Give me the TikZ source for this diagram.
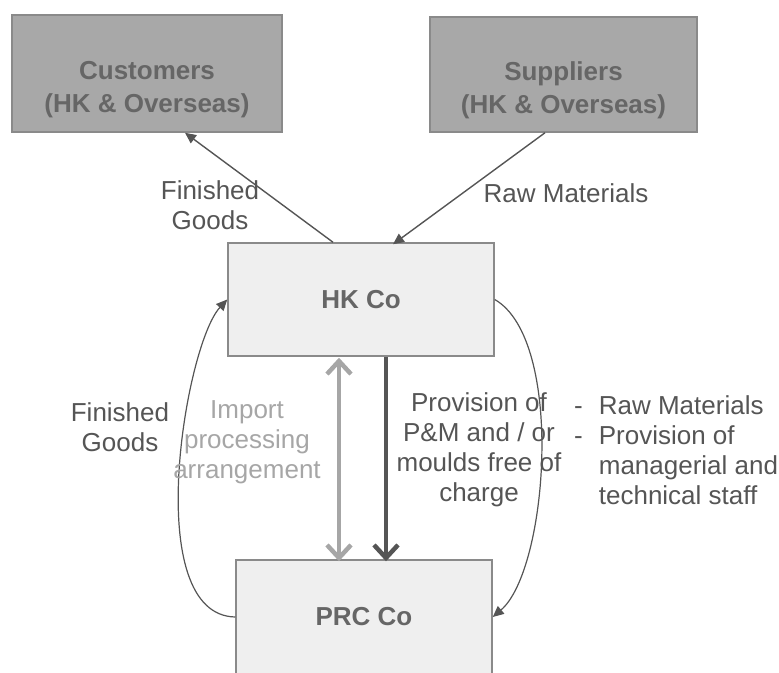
\documentclass[tikz,border=0pt]{standalone}
\usepackage{fontspec}
\setmainfont{Liberation Sans}
\usetikzlibrary{arrows.meta,calc}
\definecolor{darkbox}{HTML}{A8A8A8}
\definecolor{lightbox}{HTML}{EFEFEF}
\definecolor{edge}{HTML}{8A8A8A}
\definecolor{ink}{HTML}{555555}
\definecolor{paleink}{HTML}{A6A6A6}
\definecolor{darkarrow}{HTML}{555555}
\tikzset{
  topbox/.style={draw=edge, line width=1.5pt, fill=darkbox, minimum width=270pt, minimum height=117pt, inner sep=0pt},
  midbox/.style={draw=edge, line width=1.5pt, fill=lightbox, inner sep=0pt},
  boxtext/.style={text=ink!90, font=\fontsize{26}{33}\selectfont\bfseries, align=center, inner sep=0pt},
  lbl/.style={text=ink, font=\fontsize{26}{30}\selectfont, align=center, inner sep=0pt},
  palelbl/.style={text=paleink, font=\fontsize{26}{30}\selectfont, align=center, inner sep=0pt},
  leftlbl/.style={text=ink, font=\fontsize{26}{30}\selectfont, align=left, inner sep=0pt},
  thinarr/.style={draw=ink, line width=1.4pt, -{Triangle[length=11pt,width=10pt]}},
  curvearr/.style={draw=ink, line width=1.2pt, -{Triangle[length=11pt,width=10pt]}},
  palearr/.style={draw=paleink, line width=4.5pt, {Straight Barb[length=13pt,width=24pt,line width=4.5pt]}-{Straight Barb[length=13pt,width=24pt,line width=4.5pt]}},
  darkarr/.style={draw=darkarrow, line width=4.5pt, -{Straight Barb[length=13pt,width=24pt,line width=4.5pt]}},
}
\begin{document}
\begin{tikzpicture}[x=1pt,y=-1pt]
\useasboundingbox (0,0) rectangle (779,672);
% boxes
\node[topbox] (cust) at (147,73.5) {};
\node[boxtext] (custtxt) at (147,90) {Customers\\(HK \& Overseas)};
\node[topbox, minimum width=267pt, minimum height=115pt] (sup) at (563.5,74.5) {};
\node[boxtext] (suptxt) at (563.5,90) {Suppliers\\(HK \& Overseas)};
\node[midbox, minimum width=266pt, minimum height=113pt] (hk) at (361,299.5) {};
\node[boxtext] (hktxt) at (361,300) {HK Co};
\node[midbox, minimum width=256pt, minimum height=114pt] (prc) at (364,617) {};
\node[boxtext] (prctxt) at (364,617) {PRC Co};
% top arrows
\draw[thinarr] ([xshift=-28pt]hk.north) -- ([xshift=38pt]cust.south);
\draw[thinarr] ([xshift=-18.5pt]sup.south) -- ([xshift=32pt,yshift=-2pt]hk.north);
\node[lbl] (fg1) at (210,205) {Finished\\Goods};
\node[lbl] (rm1) at (566,193) {Raw Materials};
% vertical arrows
\draw[palearr] ([xshift=-22pt,yshift=-1pt]hk.south) -- ([xshift=-25pt,yshift=-2pt]prc.north);
\draw[darkarr] ([xshift=25pt]hk.south) -- ([xshift=22pt,yshift=-2pt]prc.north);
% curves
\draw[curvearr] (prc.west) .. controls (140,615) and (185,345) .. (hk.west);
\draw[curvearr] (hk.east) .. controls (565,340) and (548,570) .. (prc.east);
% labels
\node[lbl] (fg2) at (120,427) {Finished\\Goods};
\node[palelbl] (ipa) at (247,442) {Import\\processing\\arrangement};
\node[lbl] (prov) at (479,450) {Provision of\\P\&M and / or\\moulds free of\\charge};
\node[leftlbl, anchor=west] (bul) at (574,450) {-\hspace{16pt}Raw Materials\\-\hspace{16pt}Provision of\\\phantom{-}\hspace{16pt}managerial and\\\phantom{-}\hspace{16pt}technical staff};
\end{tikzpicture}
\end{document}
